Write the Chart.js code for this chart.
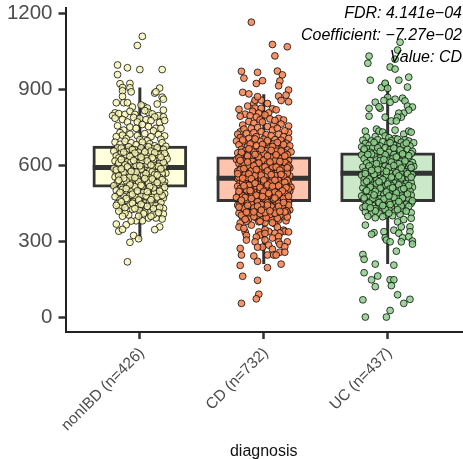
<!DOCTYPE html>
<html>
<head>
<meta charset="utf-8">
<script src="https://cdn.jsdelivr.net/npm/chart.js@4"></script>
<style>
  html, body { margin: 0; padding: 0; background: #fff; }
  canvas { display: block; }
</style>
</head>
<body>
<canvas id="myChart" width="463" height="459"></canvas>
<script>
var categories = ['nonIBD (n=426)', 'CD (n=732)', 'UC (n=437)'];
var yTicks = [0, 300, 600, 900, 1200];
var annotationLines = ['FDR: 4.141e\u221204', 'Coefficient: \u22127.27e\u221202', 'Value: CD'];

// box stats, per category
var q1 = [513, 455, 455];
var q3 = [675, 632, 648];
var medians = [590, 548, 568];
var whiskerLow = [305, 209, 209];
var whiskerHigh = [906, 880, 915];

// [jitter in hundredths of a category, value]
var nonibdPoints = [
  [2,1108],[-2,1072],[-18,995],[-10,984],[0,977],[18,977],[-18,957],[-16,921],[-8,922],[-14,906],[-8,905],[-7,889],[-14,893],[12,884],[16,904],[13,889],[18,868],[19,860],[-14,871],[-19,846],[-13,846],[-10,846],[14,841],[19,817],
  [-6,829],[3,832],[1,837],[6,825],[-20,806],[-17,803],[-12,800],[-22,795],[-8,812],[-4,800],[7,808],[10,802],[4,815],[15,795],[19,790],[12,790],
  [-20,785],[-14,780],[-5,788],[0,784],[5,779],[9,775],[-10,770],[16,768],[20,776],[-2,770],[-18,755],[-8,750],[2,760],[7,752],[13,745],[-13,738],[-3,745],[11,735],[17,745],[-16,728],
  [-19,712],[-14,718],[-8,722],[-2,716],[4,724],[9,712],[15,720],[20,715],[-11,704],[0,700],[6,696],[17,702],[-20,690],[-16,682],[-12,694],[-7,688],[-3,680],[2,690],[8,684],[12,676],[18,688],[21,674],
  [-18,668],[-13,664],[-9,672],[-4,660],[1,668],[5,658],[10,664],[15,656],[19,662],[-21,655],[-15,648],[-10,652],[-6,643],[-1,650],[3,641],[7,647],[12,639],[17,645],[21,637],[-19,636],
  [-17,628],[-12,632],[-8,622],[-3,630],[1,621],[5,627],[9,619],[14,625],[18,617],[22,624],[-20,616],[-14,610],[-10,613],[-5,606],[0,611],[4,603],[8,609],[12,601],[16,607],[20,600],
  [-18,598],[-13,592],[-7,596],[-2,589],[2,594],[6,586],[11,591],[15,584],[19,590],[-21,587],[-16,579],[-11,583],[-6,575],[-1,580],[3,572],[8,577],[13,570],[17,575],[21,568],[-19,570],
  [-14,562],[-9,566],[-4,557],[0,563],[5,555],[10,560],[14,552],[18,558],[-20,553],[-16,546],[-11,549],[-6,541],[-2,546],[3,538],[7,543],[12,536],[16,541],[20,534],[-18,533],[-13,527],
  [-8,530],[-3,523],[1,528],[6,520],[10,525],[15,518],[19,523],[-21,518],[-15,512],[-10,515],[-5,507],[0,511],[4,503],[9,508],[13,500],[18,505],[-19,500],[-12,494],
  [-7,497],[-2,489],[3,493],[7,485],[12,490],[16,482],[20,487],[-17,484],[-13,476],[-8,480],[-3,472],[1,476],[6,468],[10,472],[15,465],[19,470],[-20,475],[-16,462],
  [-10,460],[-5,455],[0,460],[4,450],[8,456],[13,445],[17,452],[-18,448],[-14,440],[-8,442],[-2,436],[3,440],[10,445],[13,439],[-15,429],[-16,435],[19,429],[14,428],
  [-6,425],[0,420],[5,424],[19,407],[-9,403],[8,414],[4,414],[18,387],[13,391],[7,391],[2,380],[-3,380],[-7,379],[-12,410],[-17,418],[11,405],
  [-19,367],[-11,364],[16,356],[12,345],[-17,339],[-14,346],[-5,322],[-1,309],[-8,295],[-10,218],
  [-15,667],[-6,661],[7,672],[14,668],[-11,641],[-2,637],[9,655],[15,641],[-17,609],[-7,614],[2,618],[11,622],[19,611],[-12,601],[-3,598],[6,603],[15,595],[-19,581],[-9,587],[1,583],
  [10,573],[18,567],[-13,571],[-5,563],[3,559],[12,563],[-17,557],[-8,553],[-1,534],[7,530],[16,551],[-11,538],[-4,514],[2,516],[11,510],[20,512],[-14,504],[-6,485],[5,478],[14,474],
  [-11,468],[-1,462],[9,463],[18,480],[-15,455],[-6,449],[6,437],[-12,432],[1,445],[11,428],[16,433],[-4,428],[-19,441],[3,408],[-14,398],[15,412],[9,398],[-1,398],
  [-13,651],[-4,647],[4,652],[12,649],[20,646],[-8,634],[1,631],[10,629],[17,631],[-15,622],[-5,618],[6,616],[-10,593],[0,597],[9,600],[17,585],[-15,585],[-3,572],[5,566],[14,561],
  [-7,575],[-13,548],[-4,550],[4,547],[10,545],[18,542],[-17,540],[-8,522],[1,520],[8,515],[14,531],[-11,507],[-2,498],[6,495],[16,497],[-16,492]
];
var cdPoints = [
  [-10,1164],[7,1076],[19,1067],[9,1031],[-18,970],[-16,943],[-5,966],[-6,922],[-1,933],[11,971],[15,956],[13,932],[12,913],[20,896],[-17,887],[-12,881],[12,872],[18,876],[14,855],[20,850],
  [-20,820],[-13,833],[-8,843],[-7,856],[-2,856],[-5,870],[3,843],[7,822],[10,818],[4,806],[-7,825],[-2,824],[-15,801],[-19,793],[12,784],[16,778],[20,754],[20,729],[8,758],[-17,758],[-19,731],
  [-9,812],[-4,805],[-11,795],[-6,790],[1,798],[-3,778],[-12,772],[-8,765],[-1,770],[5,782],[9,776],[14,762],[3,752],[-5,748],[-10,745],[-16,742],[7,738],[11,745],[17,735],[-21,722],
  [-14,725],[-8,728],[-2,732],[2,720],[6,716],[12,722],[16,712],[20,705],[-19,708],[-12,705],[-6,712],[0,702],[9,700],[14,698],[-22,695],[-16,692],[-9,690],[-3,694],[4,688],[8,684],
  [12,678],[18,686],[21,676],[-20,680],[-13,674],[-6,676],[-1,672],[5,668],[10,665],[15,668],[19,660],[-18,662],[-15,656],[-10,660],[-4,654],[2,656],[7,650],[12,652],[17,648],[22,652],
  [-21,648],[-16,642],[-12,646],[-8,640],[-3,643],[1,638],[5,642],[9,634],[14,638],[18,632],[-19,634],[-14,628],[-10,632],[-5,625],[0,630],[4,622],[8,626],[12,620],[16,624],[20,618],
  [-22,622],[-17,616],[-12,618],[-7,612],[-2,616],[2,610],[6,614],[11,606],[15,610],[19,604],[-20,606],[-15,600],[-10,604],[-5,597],[0,601],[4,594],[9,598],[13,590],[17,595],[21,588],
  [-18,590],[-13,585],[-8,588],[-3,581],[1,585],[6,578],[10,582],[15,575],[19,579],[-21,576],[-16,570],[-11,573],[-6,566],[-1,570],[3,563],[8,567],[12,560],[17,564],[21,557],[-19,560],
  [-14,555],[-9,558],[-4,551],[1,554],[5,547],[10,551],[14,544],[18,548],[-21,546],[-16,541],[-12,544],[-7,537],[-2,540],[3,533],[7,537],[12,530],[16,534],[20,527],[-19,531],[-14,525],
  [-9,528],[-4,521],[0,525],[5,518],[9,522],[14,515],[18,519],[22,512],[-21,516],[-16,510],[-11,513],[-6,506],[-1,510],[3,503],[8,507],[12,500],[17,504],[21,497],[-18,500],[-13,495],
  [-8,498],[-3,491],[2,495],[6,488],[11,492],[15,485],[19,489],[-20,486],[-15,480],[-10,483],[-5,476],[0,480],[4,473],[9,477],[13,470],[18,474],[-22,472],[-17,466],[-12,469],[-7,462],
  [-2,466],[3,459],[7,463],[12,456],[16,460],[20,453],[-19,456],[-14,450],[-9,453],[-4,447],[1,450],[5,443],[10,447],[14,440],[18,444],[-21,442],[-16,436],[-11,439],[-6,432],[-1,436],
  [3,429],[8,433],[13,426],[17,430],[21,423],[-18,426],[-13,420],[-8,423],[-3,416],[2,420],[6,413],[11,417],[15,410],[19,414],[-20,410],[-15,404],[-10,407],[-5,400],[0,404],[4,397],
  [9,401],[16,396],[-17,392],[-12,388],[-6,391],[-1,385],[6,387],[12,383],[18,380],[-19,371],[-10,363],[1,372],[-4,376],[9,368],[-14,378],
  [11,355],[-20,355],[16,343],[17,338],[20,336],[13,332],[9,331],[4,338],[1,345],[-4,336],[-15,336],[-16,350],[-14,322],[-3,324],[-6,316],[1,330],[7,312],[12,318],
  [19,297],[12,297],[13,287],[-7,297],[-14,304],[1,304],[4,284],[7,268],[-1,276],[-5,276],[17,278],[13,256],[17,256],[-19,271],[-18,245],[-8,241],[3,245],[8,245],[10,245],[-5,220],[14,209],[-19,204],[3,195],[-17,161],[-5,145],[-4,90],[-6,72],[-18,54],
  [-17,699],[-7,703],[3,696],[11,689],[16,681],[-11,683],[-1,681],[7,673],[-18,650],[-8,651],[0,646],[10,655],[19,641],[-13,636],[-4,631],[6,630],[14,626],[-20,628],[-9,614],[0,619],
  [9,617],[17,611],[-16,607],[-6,604],[3,605],[12,600],[20,596],[-12,596],[-1,591],[7,590],[15,585],[-19,581],[-10,578],[-4,573],[5,571],[11,571],[19,568],[-15,563],[-7,558],[2,561],
  [9,558],[16,556],[-20,552],[-13,551],[-2,549],[7,545],[12,539],[19,539],[-17,531],[-9,535],[0,531],[5,529],[14,525],[-12,520],[-6,516],[2,514],[10,511],[20,506],[-19,507],[-14,502],
  [-3,503],[6,498],[13,493],[17,490],[-10,492],[-1,487],[4,481],[11,478],[-17,478],[-7,473],[1,469],[8,466],[16,468],[-13,460],[-5,455],[3,451],[12,449],[20,442],[-19,448],[-10,444],
  [-2,443],[6,436],[15,436],[-16,429],[-8,431],[1,426],[10,423],[18,420],[-12,412],[-3,408],[5,405],[13,401],[-18,402],[-8,396],[2,392],[11,390],[19,395],[-15,386],[-3,378],[7,372],
  [-12,664],[-2,662],[6,658],[14,655],[-7,642],[3,636],[10,640],[17,636],[-19,618],[-13,612],[-4,608],[5,612],[13,614],[-8,597],[1,593],[10,592],[19,589],[-16,586],[-6,582],[3,577],
  [13,580],[-21,566],[-12,565],[-2,560],[6,562],[14,563],[-17,548],[-10,546],[0,541],[9,540],[17,532],[-7,528],[3,522],[12,518],[-16,518],[-3,512],[7,516],[18,511],[-20,496],[-11,499],
  [0,496],[9,493],[15,498],[-15,472],[-6,481],[4,488],[12,485],[20,477],[-18,461],[-10,468],[-1,476],[9,470],[-13,441],[-5,438],[3,442],[12,437],[16,452],[-20,434],[-8,415],[1,412],
  [9,410],[17,415],[-14,414],[-2,422],[5,419],[13,417]
];
var ucPoints = [
  [10,1085],[8,1054],[6,1018],[2,987],[6,979],[-15,1030],[-16,1002],[-14,935],[9,935],[17,947],[16,908],[-2,920],[-5,906],[-2,923],[0,903],
  [-10,848],[-15,824],[-15,793],[-6,824],[-7,830],[0,867],[-3,855],[6,860],[2,848],[12,864],[14,853],[16,833],[20,829],[17,817],[13,805],[9,805],[11,789],[8,789],[3,774],[-2,789],[7,774],
  [-18,734],[-9,742],[-7,734],[-4,730],[6,738],[13,722],[17,734],[19,730],[6,705],[-17,710],[-10,712],[-2,715],[1,708],[14,700],
  [-20,698],[-13,695],[-8,700],[-4,692],[3,696],[8,702],[11,690],[17,695],[21,688],[-18,685],[-15,678],[-10,682],[-6,675],[0,684],[5,678],[9,672],[13,680],[18,675],[-21,672],[-16,664],
  [-12,668],[-7,660],[-2,668],[2,660],[7,664],[12,656],[16,662],[20,654],[-19,656],[-14,650],[-9,652],[-4,645],[1,650],[5,642],[10,648],[14,640],[19,645],[-21,640],[-16,634],[-11,636],
  [-6,628],[-1,633],[4,625],[8,630],[13,622],[17,627],[-19,625],[-14,618],[-9,620],[-4,612],[1,616],[6,609],[11,614],[15,606],[20,610],[-17,608],[-12,601],[-7,604],[-2,596],[3,600],
  [8,593],[12,598],[17,590],[21,595],[-20,592],[-15,586],[-10,588],[-5,580],[0,584],[4,577],[9,581],[14,574],[18,578],[-18,575],[-13,569],[-8,572],[-3,564],[2,568],[6,561],[11,565],
  [15,558],[20,562],[-21,560],[-16,553],[-11,556],[-6,548],[-1,552],[4,545],[8,549],[13,542],[17,546],[-19,543],[-14,537],[-9,540],[-4,532],[1,536],[6,529],[10,533],[15,526],[19,530],
  [-17,526],[-12,520],[-7,523],[-2,515],[3,519],[7,512],[12,516],[16,509],[20,513],[-20,510],[-15,504],[-10,507],[-5,499],[0,503],[5,496],[9,500],[14,493],[18,497],[-18,494],[-13,488],
  [-8,491],[-3,483],[2,487],[6,480],[11,484],[15,477],[19,481],[-21,478],[-16,472],[-11,475],[-6,467],[-1,471],[4,464],[8,468],[13,461],[17,465],[-19,462],[-14,456],[-9,459],[-4,451],
  [1,455],[6,448],[10,452],[15,445],[19,449],[-17,446],[-12,440],[-7,443],[-2,436],[3,432],[8,438],[13,429],[-20,432],[-15,426],[-10,428],[-4,420],[1,424],[6,416],[12,420],[19,412],
  [-18,415],[-13,408],[-7,410],[-1,404],[4,400],[10,406],[-16,398],[-10,392],[-4,396],[8,376],[19,390],[13,385],[-18,363],[18,356],[11,356],[5,343],[18,337],[-3,337],[-11,333],[9,331],[-13,327],
  [17,317],[-2,313],[12,313],[-1,304],[20,300],[11,297],[2,297],[20,288],[7,260],[-20,247],[-19,228],[-10,209],[5,205],[-19,175],[-8,162],[-13,147],[2,147],[5,147],[3,124],[-10,120],[8,88],[18,70],[-20,68],[13,54],[2,26],[-18,0],[-1,0],
  [-11,689],[2,688],[15,687],[-19,663],[-8,668],[5,667],[10,660],[-13,643],[-2,641],[17,637],[-6,618],[3,612],[9,605],[18,601],[-15,596],[-8,582],[1,591],[11,588],[-18,566],[-11,563],
  [-1,561],[7,570],[16,566],[-15,545],[-4,543],[3,552],[11,549],[19,552],[-19,530],[-9,527],[0,525],[9,522],[17,519],[-14,513],[-6,509],[2,506],[11,503],[-17,499],[-10,496],[-1,494],
  [7,490],[16,486],[-19,470],[-12,468],[-3,466],[5,472],[12,470],[20,459],[-15,450],[-7,452],[2,444],[11,439],[17,437],[-18,437],[-10,419],[-2,425],[8,424],[15,418],[-14,431],[1,410],
  [-6,654],[12,644],[-16,642],[7,632],[-3,622],[14,616],[-9,606],[5,598],[19,590],[-13,579],[-1,575],[9,557],[-17,536],[-7,534],[4,510],[13,507],[-11,482],[1,478],[9,456],[-4,440]
];

var boxFills = ['#FFFFDB', '#FFC4AD', '#CBE8C9'];
var dotFills = ['rgba(248,246,180,0.8)', 'rgba(246,132,84,0.88)', 'rgba(140,206,136,0.85)'];
var pointSets = [nonibdPoints, cdPoints, ucPoints];
var boxHalf = 0.38;

var datasets = [];

// boxes
datasets.push({
  type: 'bar',
  data: categories.map(function (c, i) { return { x: i + 1, y: [q1[i], q3[i]] }; }),
  backgroundColor: boxFills,
  borderColor: '#333333',
  borderWidth: 3,
  borderSkipped: false,
  barThickness: 94,
  grouped: false,
  order: 5
});

categories.forEach(function (c, i) {
  // whisker
  datasets.push({
    type: 'line',
    data: [{ x: i + 1, y: whiskerLow[i] }, { x: i + 1, y: whiskerHigh[i] }],
    borderColor: '#333333',
    borderWidth: 3,
    pointRadius: 0,
    order: 6
  });
  // median
  datasets.push({
    type: 'line',
    data: [{ x: i + 1 - boxHalf, y: medians[i] }, { x: i + 1 + boxHalf, y: medians[i] }],
    borderColor: '#333333',
    borderWidth: 5,
    pointRadius: 0,
    order: 4
  });
  // jittered samples
  datasets.push({
    type: 'scatter',
    data: pointSets[i].map(function (p) { return { x: i + 1 + p[0] / 100, y: p[1] }; }),
    backgroundColor: dotFills[i],
    borderColor: 'rgba(0,0,0,0.75)',
    borderWidth: 1,
    pointRadius: 3.4,
    order: 1
  });
});

var annotation = {
  id: 'annotation',
  afterDraw: function (chart) {
    var c = chart.ctx;
    c.save();
    c.font = 'italic 16px "Liberation Sans"';
    c.fillStyle = '#000';
    c.textAlign = 'right';
    c.textBaseline = 'middle';
    annotationLines.forEach(function (t, i) {
      c.fillText(t, chart.width - 1, 14 + i * 22);
    });
    c.restore();
  }
};

// labels may overhang, the plot area stays where the reference has it
function noOverhang(s) {
  s.paddingTop = 0;
  s.paddingBottom = 0;
  s.paddingLeft = 0;
  s.paddingRight = 0;
}

var myChart = new Chart(document.getElementById('myChart'), {
  type: 'bar',
  data: { datasets: datasets },
  plugins: [annotation],
  options: {
    responsive: false,
    animation: false,
    layout: { autoPadding: false, padding: { top: 8, right: 1, left: 0, bottom: 0 } },
    plugins: { legend: { display: false }, tooltip: { enabled: false } },
    scales: {
      x: {
        type: 'linear',
        min: 0.4,
        max: 3.6,
        offset: false,
        afterFit: function (s) { s.height = 127; noOverhang(s); },
        grid: { offset: false, drawOnChartArea: false, tickLength: 7, tickWidth: 2.5, tickColor: '#333333' },
        border: { display: true, color: '#222222', width: 2 },
        ticks: {
          stepSize: 1,
          includeBounds: false,
          autoSkip: false,
          minRotation: 45,
          maxRotation: 45,
          padding: 5,
          labelOffset: 2,
          color: '#4D4D4D',
          font: { family: '"Liberation Sans"', size: 15.5 },
          callback: function (v) { return categories[v - 1]; }
        },
        title: { display: true, text: 'diagnosis', color: '#111', font: { family: '"Liberation Sans"', size: 16 }, padding: { top: 0, bottom: -2 } }
      },
      y: {
        min: -59,
        max: 1220,
        afterFit: function (s) { s.width = 65.5; noOverhang(s); },
        afterBuildTicks: function (s) { s.ticks = yTicks.map(function (v) { return { value: v }; }); },
        grid: { drawOnChartArea: false, tickLength: 7, tickWidth: 2.5, tickColor: '#333333' },
        border: { display: true, color: '#222222', width: 2 },
        ticks: {
          padding: 6,
          color: '#4D4D4D',
          font: { family: '"Liberation Sans"', size: 20.5 },
          callback: function (v) { return String(v); }
        }
      }
    }
  }
});
</script>
</body>
</html>
